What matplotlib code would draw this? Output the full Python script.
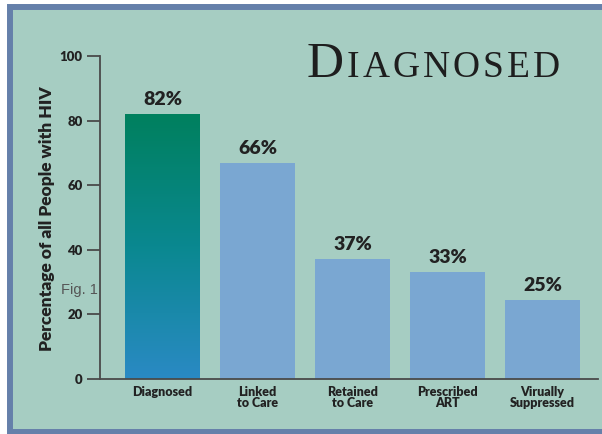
import numpy as np
import matplotlib
matplotlib.use('Agg')
import matplotlib.pyplot as plt
from matplotlib.patches import Rectangle
from matplotlib.colors import LinearSegmentedColormap

# --- data ---
categories = ['Diagnosed', 'Linked\nto Care', 'Retained\nto Care', 'Prescribed\nART', 'Virually\nSuppressed']
values = [82, 67, 37, 33, 24.5]
value_labels = ['82%', '66%', '37%', '33%', '25%']
yticks = [0, 20, 40, 60, 80, 100]

W, H = 602, 434
BG = '#a6cdc2'
BAR = '#7aa7d2'
BORDER = '#6580aa'
INK = '#222222'
FONT = 'Lato'
WT = 'heavy'

fig = plt.figure(figsize=(W / 100, H / 100), dpi=100)
fig.patch.set_facecolor('white')

# framed panel
panel = Rectangle((9.5 / W, 2 / H), 1.05, 425 / H, transform=fig.transFigure,
                  facecolor=BG, edgecolor=BORDER, linewidth=4.3, clip_on=False, zorder=-5)
fig.patches.append(panel)

# axes: y=0 at 379px, y=100 at 56px, spine at x=100px
ax = fig.add_axes([100 / W, 1 - 379 / H, 498 / W, (379 - 56) / H])
ax.set_zorder(2)
ax.patch.set_alpha(0)
x = np.arange(len(categories))
step = 95.0
width = 75 / step

bars = ax.bar(x, values, width=width, color=BAR, zorder=2)

# gradient on the first bar
bars[0].set_facecolor('none')
cmap = LinearSegmentedColormap.from_list('g', ['#2a8ac4', '#0a8890', '#00805e'])
grad = np.linspace(0, 1, 256).reshape(-1, 1)
ax.imshow(grad, cmap=cmap, origin='lower', aspect='auto', zorder=2,
          extent=[x[0] - width / 2, x[0] + width / 2, 0, values[0]])
ax.set_xlim((100 - 162.5) / step, (598 - 162.5) / step)
ax.set_ylim(0, 100)

for xi, v, lab in zip(x, values, value_labels):
    ax.annotate(lab, (xi, v), xytext=(0, 6.5), textcoords='offset points',
                ha='center', va='baseline', fontsize=14, fontweight=WT,
                family=FONT, color=INK)

for s in ['top', 'right']:
    ax.spines[s].set_visible(False)
for s in ['left', 'bottom']:
    ax.spines[s].set_color('#4a4a4a')
    ax.spines[s].set_linewidth(1.3)

ax.set_yticks(yticks)
ax.set_yticklabels([str(t) for t in yticks], fontsize=9.5, fontweight=WT,
                   family=FONT, color=INK)
ax.tick_params(axis='y', length=9.4, width=1.3, color='#4a4a4a', pad=3)

ax.set_xticks(x)
ax.set_xticklabels(categories, fontsize=9, fontweight=WT, family=FONT,
                   color=INK, linespacing=0.95, va='top')
ax.tick_params(axis='x', length=0, pad=5)

ax.set_ylabel('Percentage of all People with HIV', fontsize=12.5, fontweight=WT,
              family=FONT, color=INK, va='center')
ax.yaxis.set_label_coords((47 - 100) / 498, (379 - 218.5) / 323)

fig.text(98 / W, 1 - 290 / H, 'Fig. 1', fontsize=10.5, family='Liberation Sans',
         color='#555555', va='center', ha='right')

# small-caps title "DIAGNOSED"
fig.canvas.draw()
r = fig.canvas.get_renderer()
xpos = 307
base_y = 1 - 77 / H
t = fig.text(xpos / W, base_y, 'D', fontsize=37, family='Liberation Serif',
             color='#1e1e1e', va='baseline')
xpos = t.get_window_extent(r).x1 + 3
for ch in 'IAGNOSED':
    t = fig.text(xpos / W, base_y, ch, fontsize=27, family='Liberation Serif',
                 color='#1e1e1e', va='baseline')
    xpos = t.get_window_extent(r).x1 + 3

fig.savefig('out.png', dpi=100, facecolor=fig.get_facecolor())
